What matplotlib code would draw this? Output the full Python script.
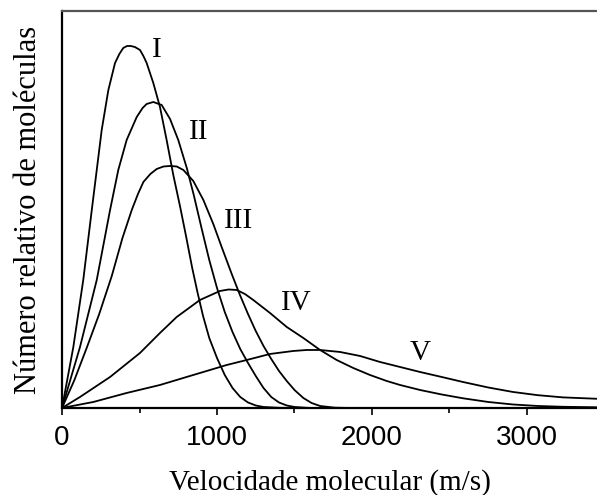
import matplotlib
matplotlib.use("Agg")
import matplotlib.pyplot as plt
from matplotlib.ticker import MultipleLocator

# velocity (m/s) and relative number of molecules (arbitrary units)
v_I = [0, 73, 137, 192, 224, 256, 299, 342, 370, 395, 420, 443, 470, 503, 525, 546, 589, 632, 675,
       718, 761, 800, 840, 875, 910, 950, 1000, 1050, 1100, 1150, 1200, 1250, 1300, 1400, 1500]
n_I = [0, 61, 128, 198, 238, 278, 318, 345, 354, 360, 362, 362, 361, 358, 352, 345, 325, 301, 268,
       233, 202, 172, 140, 115, 92, 70, 50, 33, 20, 11, 5.5, 2.5, 1, 0.2, 0]

v_II = [0, 116, 224, 310, 363, 417, 482, 520, 546, 589, 643, 697, 750, 805, 850, 900, 950, 1000,
        1050, 1100, 1150, 1200, 1250, 1300, 1350, 1400, 1450, 1500, 1600]
n_II = [0, 61, 128, 198, 238, 268, 291, 300, 304, 306, 303, 289, 268, 240, 213, 180, 148, 120,
        96, 76, 59, 45, 32, 20, 11, 5.5, 2.5, 1, 0]

v_III = [0, 80, 159, 240, 321, 390, 450, 490, 525, 570, 611, 655, 697, 740, 783, 847, 912, 976,
         1030, 1095, 1148, 1200, 1250, 1300, 1350, 1400, 1450, 1500, 1557, 1610, 1665, 1760, 1858]
n_III = [0, 28, 60, 94, 132, 170, 198, 214, 226, 234, 239, 241.5, 242, 241.5, 238, 227, 208, 184,
         161, 134, 113, 94, 77, 62, 49, 37, 27, 18, 10, 5, 2, 0.3, 0]

v_IV = [0, 116, 310, 503, 632, 740, 890, 1019, 1075, 1127, 1180, 1234, 1342, 1450, 1557, 1665,
        1772, 1879, 1987, 2095, 2181, 2310, 2450, 2587, 2750, 2910, 3070, 3232, 3452]
n_IV = [0, 11, 31, 55, 75, 91, 108, 117, 118.5, 118, 114, 108, 95, 81, 70, 58,
        48, 40, 33, 27, 23, 18, 13.5, 9.7, 6, 3.5, 2, 1.2, 0.7]

v_V = [0, 202, 417, 632, 847, 1063, 1192, 1342, 1492, 1580, 1665, 1794, 1923, 2052, 2181, 2310,
       2450, 2587, 2750, 2910, 3070, 3232, 3452]
n_V = [0, 6, 15, 23, 33, 43, 48, 54, 57, 58, 58, 56, 52, 46, 41, 36,
       31, 26, 20.5, 16, 12.8, 10.6, 9.2]

labels = ["I", "II", "III", "IV", "V"]
label_v = [611, 880, 1137, 1514, 2310]
label_n = [358, 276, 187, 105, 55]

serif = "Liberation Serif"
sans = "Liberation Sans"

fig = plt.figure(figsize=(5.97, 4.95), dpi=100)
ax = fig.add_axes([0.1039, 0.1758, 0.8961, 0.802])

for v, n in [(v_I, n_I), (v_II, n_II), (v_III, n_III), (v_IV, n_IV), (v_V, n_V)]:
    ax.plot(v, n, color="black", lw=1.3, solid_joinstyle="round", solid_capstyle="round")

for lab, x, y in zip(labels, label_v, label_n):
    ax.text(x, y, lab, ha="center", va="center", family=serif, fontsize=21)

ax.set_xlim(0, 3452)
ax.set_ylim(0, 397)

# spines
ax.spines["right"].set_visible(False)
ax.spines["top"].set_color("#555555")
for s in ["left", "bottom", "top"]:
    ax.spines[s].set_linewidth(1.6)

# ticks
ax.set_yticks([])
ax.xaxis.set_major_locator(MultipleLocator(1000))
ax.xaxis.set_minor_locator(MultipleLocator(500))
ax.tick_params(axis="x", which="major", direction="out", length=5, width=1.2, pad=7,
               labelsize=20)
ax.tick_params(axis="x", which="minor", direction="out", length=3.5, width=1.2)
for t in ax.get_xticklabels():
    t.set_family(sans)

ax.set_xlabel("Velocidade molecular (m/s)", family=serif, fontsize=21, labelpad=13)
ax.set_ylabel("Número relativo de moléculas", family=serif, fontsize=22, labelpad=14)

fig.savefig("out.png", dpi=100)
